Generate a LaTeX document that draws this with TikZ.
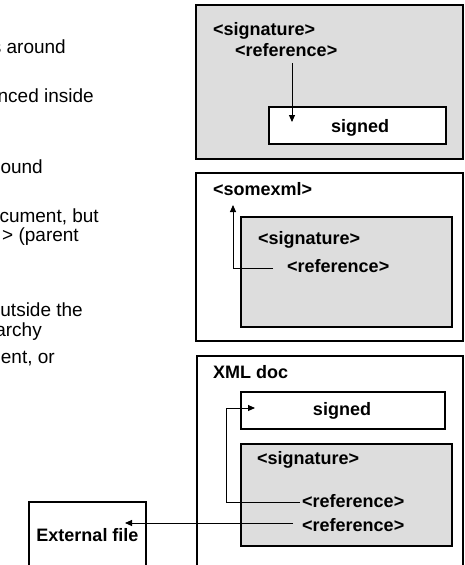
\documentclass[tikz,border=0pt]{standalone}
\usepackage{fontspec}
\setmainfont{Liberation Sans}
\usetikzlibrary{arrows.meta}
\definecolor{boxgray}{RGB}{221,221,221}
\tikzset{
  frame/.style={draw=black, line width=1.4pt},
  grayframe/.style={frame, fill=boxgray},
  whiteframe/.style={frame, fill=white},
  lbl/.style={font=\fontsize{18}{20}\selectfont\bfseries, inner sep=0pt, anchor=base west},
  ctr/.style={font=\fontsize{18}{20}\selectfont\bfseries, inner sep=0pt, anchor=base},
  txt/.style={font=\fontsize{19}{20}\selectfont, inner sep=0pt, anchor=base east},
  arr/.style={draw=black, line width=0.9pt, -{Triangle[length=7pt,width=6pt]}},
}
\begin{document}
\begin{tikzpicture}[x=1pt,y=-1pt]
\useasboundingbox (0,0) rectangle (464,565);
\clip (0,0) rectangle (464,565);
\fill[white] (0,0) rectangle (464,565);

% left explanatory text (clipped at the left edge, as in the reference)
\node[txt] (t1) at (66,53) {s around};
\node[txt] (t2) at (94,102) {nced inside};
\node[txt] (t3) at (43,173) {ound};
\node[txt] (t4) at (99,222) {cument, but};
\node[txt] (t5) at (79,241) {\,> (parent};
\node[txt] (t6) at (83,316) {utside the};
\node[txt] (t7) at (42,336) {archy};
\node[txt] (t8) at (55,363) {ent, or};

% box 1
\path[grayframe] (196,5) rectangle (463,159);
\node[lbl] (sig1) at (213,35.5) {<signature>};
\node[lbl] (ref1) at (235,56.5) {<reference>};
\path[whiteframe] (269,107) rectangle (446,144);
\node[ctr] (sgn1) at (360,132.5) {signed};
\coordinate (a1s) at (292,63);
\coordinate (a1e) at (292,122);
\draw[arr] (a1s) -- (a1e);

% box 2
\path[frame] (196,173) rectangle (463,341);
\node[lbl] (som) at (213,195.5) {<somexml>};
\path[grayframe] (241,217) rectangle (452,327);
\node[lbl] (sig2) at (258,244.5) {<signature>};
\node[lbl] (ref2) at (287,272.5) {<reference>};
\coordinate (a2s) at (273,268);
\coordinate (a2e) at (233,205);
\draw[arr] (a2s) -| (a2e);

% box 3
\path[frame] (197,356) rectangle (463,580);
\node[lbl] (xml) at (213,378.5) {XML doc};
\path[whiteframe] (241,392) rectangle (445,429);
\node[ctr] (sgn3) at (342,415.5) {signed};
\path[grayframe] (241,444) rectangle (452,546);
\node[lbl] (sig3) at (257,464.5) {<signature>};
\node[lbl] (ref3) at (302,507.5) {<reference>};
\node[lbl] (ref4) at (302,531.5) {<reference>};
\coordinate (a3s) at (300,502.5);
\coordinate (a3c) at (226,408);
\coordinate (a3e) at (255,408);
\draw[arr] (a3s) -| (a3c) -- (a3e);

% external file
\path[frame] (29,502) rectangle (146,580);
\node[ctr] (ext) at (87.5,541.5) {External file};
\coordinate (a4s) at (293,523);
\coordinate (a4e) at (125,523);
\draw[arr] (a4s) -- (a4e);
\end{tikzpicture}
\end{document}
